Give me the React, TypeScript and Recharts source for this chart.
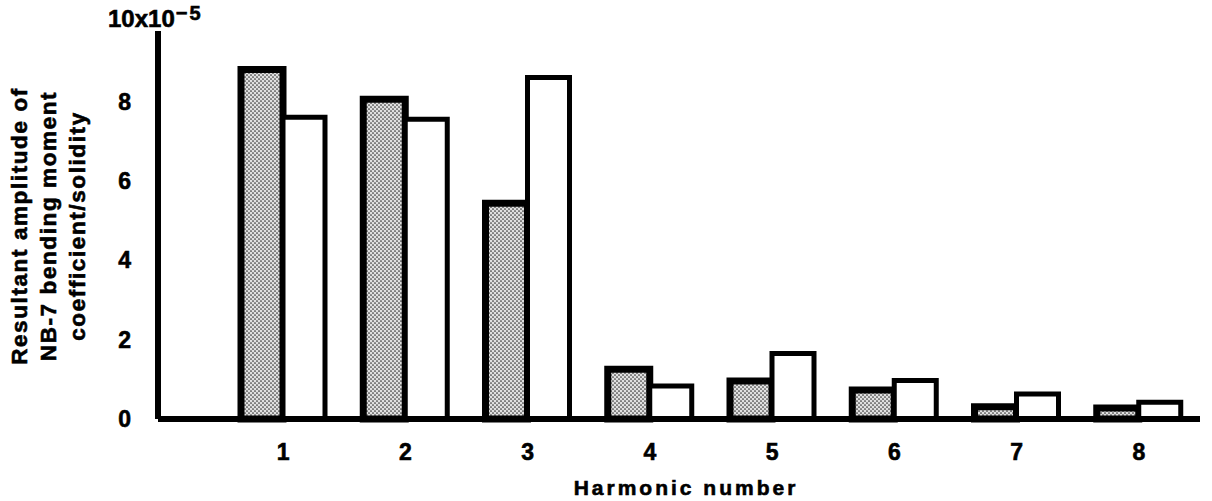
import React from 'react';
import { BarChart, Bar, XAxis, YAxis } from 'recharts';

const harmonics = ['1', '2', '3', '4', '5', '6', '7', '8'];
const shadedValues = [8.8, 8.05, 5.43, 1.25, 0.96, 0.73, 0.31, 0.28];
const openValues = [7.6, 7.55, 8.6, 0.83, 1.65, 0.97, 0.63, 0.42];
const yTicks = [0, 2, 4, 6, 8];
const yMax = 9.77;
const yLabelLines = ['Resultant amplitude of', 'NB-7 bending moment', 'coefficient/solidity'];
const multiplierBase = '10x10';
const multiplierExp = '−5';
const xLabelText = 'Harmonic number';

const data = harmonics.map((h, i) => ({ h, a: shadedValues[i], b: openValues[i] }));

const FONT = '"Liberation Sans", Arial, Helvetica, sans-serif';
const heavy = { stroke: '#000', strokeWidth: 0.6 };

const YTick = (props: any) => {
  const { y, payload } = props;
  return (
    <text x={131} y={y} dy="0.36em" textAnchor="end" fontFamily={FONT} fontWeight="bold" fontSize={23} fill="#000" {...heavy}>
      {payload.value}
    </text>
  );
};

const XTick = (props: any) => {
  const { x, payload } = props;
  return (
    <text x={x} y={460} textAnchor="middle" fontFamily={FONT} fontWeight="bold" fontSize={23} fill="#000" {...heavy}>
      {payload.value}
    </text>
  );
};

const YLabel = () => {
  const xs = [27, 56, 85];
  return (
    <g>
      <text x={108} y={27} fontFamily={FONT} fontWeight="bold" fontSize={24} fill="#000" {...heavy}>
        {multiplierBase}
        <tspan dx={1} dy={-7} fontSize={20} letterSpacing={2}>{multiplierExp}</tspan>
      </text>
      {yLabelLines.map((t, i) => (
        <text
          key={i}
          x={xs[i]}
          y={226}
          transform={`rotate(-90 ${xs[i]} 226)`}
          textAnchor="middle"
          fontFamily={FONT}
          fontWeight="bold"
          fontSize={22.5}
          letterSpacing={1.6}
          fill="#000"
          {...heavy}
        >
          {t}
        </text>
      ))}
    </g>
  );
};

const XLabel = () => (
  <text x={686} y={495} textAnchor="middle" fontFamily={FONT} fontWeight="bold" fontSize={21} letterSpacing={3} fill="#000" {...heavy}>
    {xLabelText}
  </text>
);

export default function App() {
  return (
    <div style={{ position: 'absolute', left: 0, top: 0, background: '#fff' }}>
      <BarChart
        width={1212}
        height={501}
        data={data}
        margin={{ top: 31, right: 12, bottom: 42, left: 0 }}
        barGap={0}
      >
        <defs>
          <pattern id="dots" width="4" height="4" patternUnits="userSpaceOnUse">
            <rect width="4" height="4" fill="#e0e0e0" />
            <circle cx="1" cy="1" r="0.85" fill="#333" />
            <circle cx="3" cy="3" r="0.85" fill="#333" />
          </pattern>
        </defs>
        <XAxis
          dataKey="h"
          height={40}
          padding={{ left: 64, right: 0 }}
          axisLine={{ stroke: '#000', strokeWidth: 6 }}
          tickLine={false}
          tick={<XTick />}
          interval={0}
          label={<XLabel />}
        />
        <YAxis
          width={158}
          domain={[0, yMax]}
          ticks={yTicks}
          axisLine={{ stroke: '#000', strokeWidth: 6 }}
          tickLine={false}
          tick={<YTick />}
          interval={0}
          label={<YLabel />}
        />
        <Bar dataKey="a" fill="url(#dots)" stroke="#000" strokeWidth={7} barSize={42} isAnimationActive={false} />
        <Bar dataKey="b" fill="#fff" stroke="#000" strokeWidth={5} barSize={42} isAnimationActive={false} />
      </BarChart>
    </div>
  );
}
